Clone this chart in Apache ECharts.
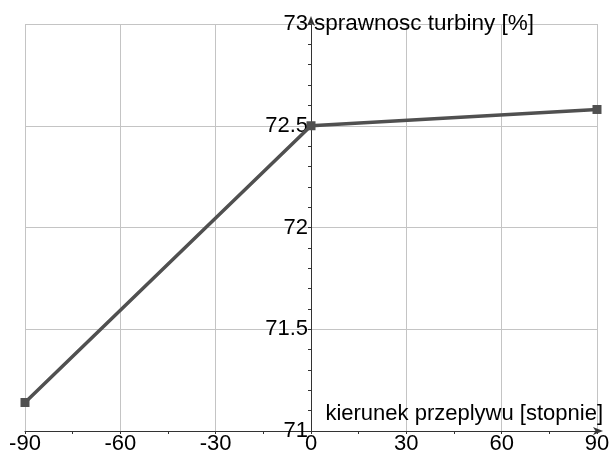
<!DOCTYPE html>
<html>
<head>
<meta charset="utf-8">
<script src="https://cdn.jsdelivr.net/npm/echarts@6/dist/echarts.min.js"></script>
<style>
  html, body { margin: 0; padding: 0; background: #fff; }
  #chart { width: 611px; height: 454px; }
</style>
</head>
<body>
<div id="chart"></div>
<script>
// Flow direction (degrees) vs. turbine efficiency (%)
const directions = [-90, 0, 90];
const efficiency = [71.14, 72.5, 72.58];
const xTicks = [-90, -60, -30, 0, 30, 60, 90];
const yTicks = [71, 71.5, 72, 72.5, 73];

const xName = 'kierunek przeplywu [stopnie]';
const yName = 'sprawnosc turbiny [%]';

const points = directions.map((d, i) => [d, efficiency[i]]);

const FONT = '"Liberation Sans", Arial, sans-serif';
const AXIS_COLOR = '#333';
const GRID_COLOR = '#c4c4c4';
const GRID_LEFT = 25;

const chart = echarts.init(document.getElementById('chart'), null, { renderer: 'canvas' });

chart.setOption({
  animation: false,
  backgroundColor: '#fff',
  grid: { left: GRID_LEFT, right: 14, top: 24, bottom: 23, containLabel: false, outerBoundsMode: 'none' },
  xAxis: {
    type: 'value',
    min: xTicks[0],
    max: xTicks[xTicks.length - 1],
    interval: 30,
    name: xName,
    nameLocation: 'end',
    nameGap: 6,
    nameTextStyle: {
      fontFamily: FONT, fontSize: 22, color: '#000',
      align: 'right', verticalAlign: 'bottom', padding: [0, 0, 6, 0]
    },
    axisLine: {
      onZero: false,
      lineStyle: { color: AXIS_COLOR, width: 1 },
      symbol: ['none', 'arrow'],
      symbolSize: [6, 10],
      symbolOffset: [0, 6]
    },
    axisTick: { show: true, inside: false, length: 3, lineStyle: { color: AXIS_COLOR } },
    minorTick: { show: true, splitNumber: 2, length: 3, lineStyle: { color: AXIS_COLOR } },
    axisLabel: {
      fontFamily: FONT, fontSize: 22, color: '#000', margin: 2,
      formatter: v => String(v)
    },
    splitLine: { show: true, lineStyle: { color: GRID_COLOR, width: 1 } },
    minorSplitLine: { show: false }
  },
  yAxis: {
    type: 'value',
    position: 'left',
    min: yTicks[0],
    max: yTicks[yTicks.length - 1],
    interval: 0.5,
    name: yName,
    nameLocation: 'end',
    nameGap: 0,
    nameTextStyle: {
      fontFamily: FONT, fontSize: 22.5, color: '#000',
      align: 'left', verticalAlign: 'middle', padding: [0, 0, 0, 3]
    },
    axisLine: {
      onZero: false,
      lineStyle: { color: AXIS_COLOR, width: 1 },
      symbol: ['none', 'arrow'],
      symbolSize: [6, 10],
      symbolOffset: [0, 8]
    },
    axisTick: { show: true, inside: false, length: 3, lineStyle: { color: AXIS_COLOR } },
    minorTick: { show: true, splitNumber: 5, length: 3, lineStyle: { color: AXIS_COLOR } },
    axisLabel: {
      fontFamily: FONT, fontSize: 22, color: '#000', margin: 3,
      formatter: v => String(v)
    },
    splitLine: { show: true, lineStyle: { color: GRID_COLOR, width: 1 } },
    minorSplitLine: { show: false }
  },
  series: [{
    type: 'line',
    data: points,
    symbol: 'rect',
    symbolSize: 9,
    lineStyle: { color: '#505050', width: 3.5 },
    itemStyle: { color: '#505050' },
    z: 3
  }]
});

// Shift the vertical axis (line, ticks and labels) so it crosses at x = 0
const zeroX = chart.convertToPixel({ xAxisIndex: 0 }, 0);
chart.setOption({ yAxis: { offset: -(zeroX - GRID_LEFT) } });
</script>
</body>
</html>
